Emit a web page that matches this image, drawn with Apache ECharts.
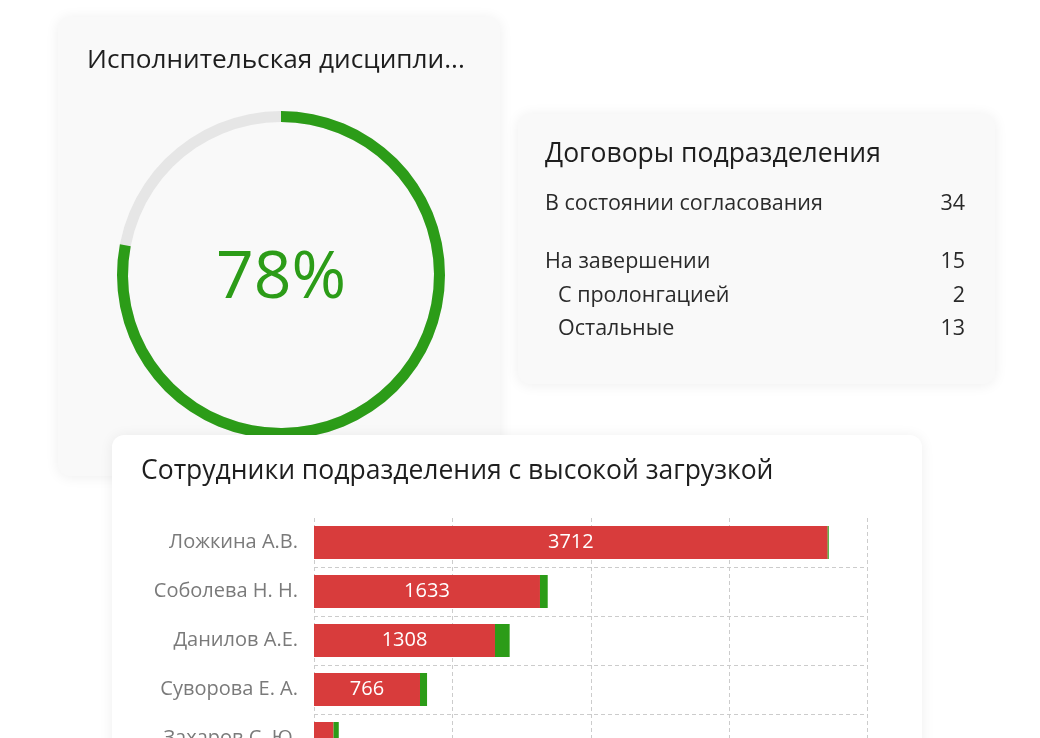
<!DOCTYPE html>
<html>
<head>
<meta charset="utf-8">
<script src="https://cdn.jsdelivr.net/npm/echarts@6/dist/echarts.min.js"></script>
<style>
  html, body { margin: 0; padding: 0; background: #ffffff; overflow: hidden; width: 1040px; height: 738px; }
  #chart { width: 1040px; height: 900px; }
</style>
</head>
<body>
<div id="chart"></div>
<script>
// ---- data ----
const disciplineTitle = 'Исполнительская дисципли...';
const disciplinePercent = 78;

const contractsTitle = 'Договоры подразделения';
const contractLabels = ['В состоянии согласования', 'На завершении', 'С пролонгацией', 'Остальные'];
const contractValues = [34, 15, 2, 13];
const contractLevels = [0, 0, 1, 1];

const employeesTitle = 'Сотрудники подразделения с высокой загрузкой';
const employees = ['Ложкина А.В.', 'Соболева Н. Н.', 'Данилов А.Е.', 'Суворова Е. А.', 'Захаров С. Ю.'];
const loadMain = [3712, 1633, 1308, 766, 141];
const loadExtra = [8, 56, 106, 51, 38];

// ---- style ----
const FONT = '"Open Sans", "Noto Sans", sans-serif';
const GREEN = '#2c9c18';
const RED = '#d83c3c';
const GRID = '#cccccc';

const chart = echarts.init(document.getElementById('chart'), null, { renderer: 'canvas' });

function card(x, y, w, h, fill, z) {
  return {
    type: 'rect', z: z, silent: true,
    shape: { x: x, y: y, width: w, height: h, r: 12 },
    style: { fill: fill, shadowBlur: 14, shadowColor: 'rgba(0,0,0,0.07)', shadowOffsetY: 1 }
  };
}
function txt(x, y, text, size, color, align, z) {
  return {
    type: 'text', z: z || 6, silent: true, x: x, y: y,
    style: { text: text, fontSize: size, fontFamily: FONT, fill: color,
             textAlign: align || 'left', textVerticalAlign: 'middle' }
  };
}

const rowY = [204, 262, 296, 329];
const elements = [
  card(58, 17, 442, 459, '#f9f9f9', 0),
  card(518, 114, 477, 270, '#f9f9f9', 0),
  card(112, 435, 810, 500, '#ffffff', 3),
  txt(87, 61, disciplineTitle, 26.2, '#1e1e1e'),
  txt(545, 154, contractsTitle, 26.5, '#1e1e1e'),
  txt(141, 471, employeesTitle, 26.5, '#1e1e1e')
];
contractLabels.forEach(function (lab, i) {
  elements.push(txt(545 + contractLevels[i] * 13, rowY[i], lab, 21.5, '#2a2a2a'));
  elements.push(txt(965, rowY[i], String(contractValues[i]), 21.5, '#2a2a2a', 'right'));
});

const option = {
  animation: false,
  backgroundColor: '#ffffff',
  graphic: { elements: elements },
  grid: { left: 314, top: 518, width: 553.5, height: 49 * employees.length, containLabel: false },
  xAxis: {
    type: 'value', min: 0, max: 4000, interval: 1000, z: 4,
    axisLine: { show: false }, axisTick: { show: false },
    axisLabel: { color: '#777', fontFamily: FONT, fontSize: 16 },
    splitLine: { show: true, lineStyle: { type: [4, 3], color: GRID, width: 1 } }
  },
  yAxis: {
    type: 'category', inverse: true, data: employees, z: 4,
    axisLine: { show: false }, axisTick: { show: false },
    axisLabel: { color: '#7a7a7a', fontFamily: FONT, fontSize: 20, margin: 16 },
    splitLine: { show: true, showMinLine: false, lineStyle: { type: [4, 3], color: GRID, width: 1 } }
  },
  series: [
    {
      type: 'gauge', z: 2,
      center: [281, 275], radius: 164,
      startAngle: 90, endAngle: -270, min: 0, max: 100,
      progress: { show: true, width: 11, itemStyle: { color: GREEN } },
      axisLine: { lineStyle: { width: 11, color: [[1, '#e6e6e6']] } },
      pointer: { show: false }, anchor: { show: false },
      axisTick: { show: false }, splitLine: { show: false }, axisLabel: { show: false },
      title: { show: false },
      detail: { offsetCenter: [0, 4], fontSize: 66, fontWeight: 500, fontFamily: FONT,
                color: GREEN, formatter: '{value}%' },
      data: [{ value: disciplinePercent }]
    },
    {
      type: 'bar', stack: 'load', z: 5, barWidth: 33,
      itemStyle: { color: RED },
      label: { show: true, position: 'inside', color: '#ffffff', fontFamily: FONT, fontSize: 20,
               formatter: function (p) { return p.value >= 300 ? String(p.value) : ''; } },
      data: loadMain
    },
    {
      type: 'bar', stack: 'load', z: 5, barWidth: 33,
      itemStyle: { color: GREEN },
      data: loadExtra
    }
  ]
};
chart.setOption(option);
</script>
</body>
</html>
